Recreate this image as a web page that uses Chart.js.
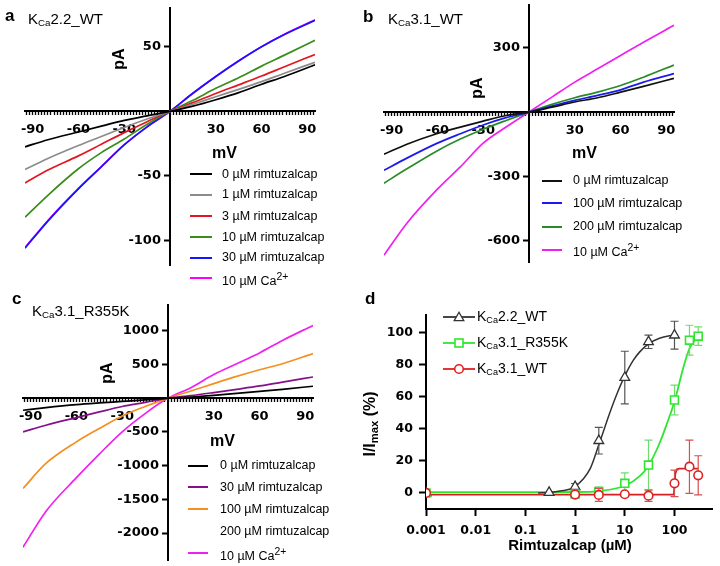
<!DOCTYPE html>
<html>
<head>
<meta charset="utf-8">
<script src="https://cdn.jsdelivr.net/npm/chart.js@4.4.1/dist/chart.umd.min.js"></script>
<style>
  body { margin: 0; background: #fff; }
  #fig { position: relative; width: 720px; height: 566px; overflow: hidden; font-family: "Liberation Sans", Arial, sans-serif; color: #000; }
  canvas { position: absolute; left: 0; top: 0; }
  .t { position: absolute; white-space: nowrap; line-height: 1; }
  .letter { font-weight: bold; font-size: 17px; }
  .name { font-size: 15px; }
  .name sub, .leg sub { font-size: 65%; vertical-align: -0.25em; }
  .ax { font-weight: bold; font-size: 16px; }
  .rot { transform: translate(-50%, -50%) rotate(-90deg); }
  .leg { position: absolute; white-space: nowrap; line-height: 1; }
  .swatch { position: absolute; }
</style>
</head>
<body>
<div id="fig">
  <canvas id="chartA" width="720" height="566"></canvas>
  <canvas id="chartB" width="720" height="566"></canvas>
  <canvas id="chartC" width="720" height="566"></canvas>
  <canvas id="chartD" width="720" height="566"></canvas>

  <div class="t letter" style="left:5px;top:7px">a</div>
  <div class="t name" style="left:28px;top:11px">K<sub>Ca</sub>2.2_WT</div>
  <div class="t letter" style="left:363px;top:8px">b</div>
  <div class="t name" style="left:388px;top:11px">K<sub>Ca</sub>3.1_WT</div>
  <div class="t letter" style="left:12px;top:290px">c</div>
  <div class="t name" style="left:32px;top:303px">K<sub>Ca</sub>3.1_R355K</div>
  <div class="t letter" style="left:365px;top:290px">d</div>

  <div class="t ax" style="left:212px;top:145px">mV</div>
  <div class="t ax" style="left:572px;top:145px">mV</div>
  <div class="t ax" style="left:210px;top:433px">mV</div>
  <div class="t ax rot" style="left:119px;top:59px">pA</div>
  <div class="t ax rot" style="left:477px;top:88px">pA</div>
  <div class="t ax rot" style="left:107px;top:373px">pA</div>
  <div class="t ax rot" style="left:371px;top:424px">I/I<sub style="font-size:70%;vertical-align:-0.25em">max</sub> (%)</div>
  <div class="t ax" style="left:570px;top:537px;transform:translateX(-50%);font-size:15px">Rimtuzalcap (µM)</div>
</div>

<script>
// membrane voltage (mV) at which the traces were read
const mV = [-95, -80, -60, -45, -30, -15, 0, 15, 30, 45, 60, 75, 95];

// a: KCa2.2_WT current (pA)
const a_0uM  = [-27.5, -22, -16, -11.5, -7, -3.5, 0, 4, 9, 14.5, 21, 27, 36];
const a_1uM  = [-45, -36.5, -26.5, -19.5, -12.5, -6, 0, 5.5, 11.3, 17, 23, 29.5, 38];
const a_3uM  = [-55.5, -45.5, -34.5, -25.5, -16.5, -8, 0, 6.7, 13.8, 20.5, 27.3, 34.5, 44];
const a_10uM = [-82, -65, -44.5, -32, -21.5, -10, 0, 8.5, 17.8, 26, 35, 43.5, 55];
const a_30uM = [-106, -85, -60, -43, -26, -12, 0, 14, 27, 39, 50, 59.5, 70.5];
const a_Ca   = [-105.5, -84.5, -59.7, -42.8, -25.8, -12, 0, 14, 27, 39.1, 50.1, 59.7, 70.8];

// b: KCa3.1_WT current (pA)
const b_0uM   = [-197, -150, -100, -70, -42, -16, 0, 23, 47, 67, 93, 120, 158];
const b_100uM = [-272, -215, -145, -101, -60, -26, 0, 28, 55, 78, 104, 140, 180];
const b_200uM = [-332, -265, -180, -126, -80, -39, 0, 36, 67, 93, 124, 163, 220];
const b_Ca    = [-668, -519, -360, -256, -145, -70, 0, 70, 140, 202, 264, 326, 405];

// c: KCa3.1_R355K current (pA)
const c_0uM   = [-180, -141, -97, -72, -50, -27, 0, 16, 41, 71, 100, 130, 176];
const c_30uM  = [-501, -402, -289, -205, -125, -64, 0, 37, 82, 130, 180, 238, 313];
const c_100uM = [-1340, -969, -649, -451, -265, -125, 0, 105, 215, 322, 420, 510, 660];
const c_Ca    = [-2210, -1680, -1180, -830, -500, -230, 0, 155, 350, 510, 670, 855, 1077];

// tick labels
const mVTicks = [-90, -60, -30, 30, 60, 90];
const pATicksA = [-100, -50, 50];
const pATicksB = [-600, -300, 300];
const pATicksC = [-2000, -1500, -1000, -500, 500, 1000];

// d: concentration-response (% of max)
const concKCa22 = [0.001, 0.3, 1, 3, 10, 30, 100];
const respKCa22 = [0, 0.3, 3.9, 32.6, 72, 94.3, 98.4];
const errKCa22  = [0, 0, 2, 8.3, 16.4, 4.2, 8.7];
const concR355K = [0.001, 1, 3, 10, 30, 100, 200, 300];
const respR355K = [0, -0.6, 0.8, 6, 17.4, 58, 95.3, 97.8];
const errR355K  = [0, 1, 3, 6.5, 15.5, 9.3, 9.3, 5.8];
const concWT    = [0.001, 1, 3, 10, 30, 100, 200, 300];
const respWT    = [0, -1, -1.2, -0.8, -1.7, 6, 16.4, 11];
const errWT     = [0, 1, 4, 1, 3.5, 8.3, 16.6, 12.2];

// fitted curves
const fitKCa22X = [0.18, 0.3, 0.5, 1, 2, 3, 5, 7, 10, 15, 20, 30, 50, 100];
const fitKCa22Y = [0, 0.3, 1.2, 4, 15, 30, 50, 62, 73, 83, 88, 93, 96.5, 98.6];
const fitR355KX = [0.001, 0.1, 1, 3, 10, 20, 30, 50, 70, 100, 150, 200, 300];
const fitR355KY = [0.5, 0.5, 0.6, 1.2, 4.5, 10.5, 17, 31, 43, 57, 78, 90, 98];
const fitWTX    = [0.001, 1, 10, 90, 97, 100, 104, 112, 125, 300];
const fitWTY    = [-1, -1, -1, -1, -1, 5, 12, 14.8, 15.2, 15.2];

const doseTicks = [0.001, 0.01, 0.1, 1, 10, 100];
const doseLabels = ['0.001', '0.01', '0.1', '1', '10', '100'];
const respTicks = [0, 20, 40, 60, 80, 100];

const tickFont = {family: 'DejaVu Sans', weight: 'bold', size: 13};
const noPad = s => { s.paddingLeft = s.paddingRight = s.paddingTop = s.paddingBottom = 0; };

const minorMV = [];
for (let v = -94; v <= 94; v += 2) minorMV.push(v);

function ivChart(id, box, yMin, yMax, yTicks, series) {
    return new Chart(id, {
        type: 'line',
        data: {
            datasets: series.map(s => ({
                label: s.label,
                data: mV.map((v, i) => ({x: v, y: s.data[i]})),
                borderColor: s.color,
                borderWidth: 1.7,
                pointRadius: 0,
                cubicInterpolationMode: 'monotone',
                order: s.order || 0
            }))
        },
        options: {
            responsive: false,
            animation: false,
            layout: {padding: {left: box[0], top: box[1], right: 720 - box[2], bottom: 566 - box[3]}},
            plugins: {legend: {display: false}, tooltip: {enabled: false}},
            scales: {
                x: {
                    type: 'linear', min: -95, max: 95, position: {y: 0},
                    afterBuildTicks: s => { s.ticks = minorMV.map(v => ({value: v})); },
                    afterFit: noPad,
                    grid: {drawOnChartArea: false, tickLength: 3, tickWidth: 1.3, tickColor: '#000'},
                    border: {color: '#000', width: 2},
                    ticks: {autoSkip: false, maxRotation: 0, padding: 8, color: '#000', font: tickFont,
                            callback: v => mVTicks.includes(v) ? String(v) : ''}
                },
                y: {
                    type: 'linear', min: yMin, max: yMax, position: {x: 0},
                    afterBuildTicks: s => { s.ticks = yTicks.map(v => ({value: v})); },
                    afterFit: noPad,
                    grid: {drawOnChartArea: false, tickLength: 5, tickWidth: 2, tickColor: '#000'},
                    border: {color: '#000', width: 2},
                    ticks: {color: '#000', font: tickFont, callback: v => v + '  '}
                }
            }
        }
    });
}

const seriesA = [
    {label: '0 µM rimtuzalcap', data: a_0uM, color: '#000000'},
    {label: '1 µM rimtuzalcap', data: a_1uM, color: '#8c8c8c'},
    {label: '3 µM rimtuzalcap', data: a_3uM, color: '#e3151f'},
    {label: '10 µM rimtuzalcap', data: a_10uM, color: '#3a8c1c'},
    {label: '30 µM rimtuzalcap', data: a_30uM, color: '#1414ff'},
    {label: '10 µM Ca<sup>2+</sup>', data: a_Ca, color: '#ff00ff', order: 1}
];
const seriesB = [
    {label: '0 µM rimtuzalcap', data: b_0uM, color: '#111111'},
    {label: '100 µM rimtuzalcap', data: b_100uM, color: '#1a1aee'},
    {label: '200 µM rimtuzalcap', data: b_200uM, color: '#2a8a2a'},
    {label: '10 µM Ca<sup>2+</sup>', data: b_Ca, color: '#f020f0', order: 1}
];
const seriesC = [
    {label: '0 µM rimtuzalcap', data: c_0uM, color: '#000000'},
    {label: '30 µM rimtuzalcap', data: c_30uM, color: '#85108a'},
    {label: '100 µM rimtuzalcap', data: c_100uM, color: '#f39020'},
    {label: '10 µM Ca<sup>2+</sup>', data: c_Ca, color: '#ee22ee', order: 1}
];

ivChart('chartA', [25, 8, 315, 265], -119, 80, pATicksA, seriesA);
ivChart('chartB', [384, 5, 674, 262], -700, 500, pATicksB, seriesB);
ivChart('chartC', [23, 305, 313, 560], -2400, 1380, pATicksC, seriesC);

// error bars for the concentration-response points
const errorBars = {
    id: 'errorBars',
    beforeDatasetDraw(chart, args) {
        const ds = chart.data.datasets[args.index];
        if (!ds.errors) return;
        const {ctx, scales: {x, y}} = chart;
        ctx.save();
        ctx.strokeStyle = ds.errorColor;
        ctx.lineWidth = 1.2;
        ds.data.forEach((p, i) => {
            const e = ds.errors[i];
            if (!e) return;
            const px = x.getPixelForValue(p.x);
            const top = y.getPixelForValue(p.y + e);
            const bot = y.getPixelForValue(p.y - e);
            ctx.beginPath();
            ctx.moveTo(px, top); ctx.lineTo(px, bot);
            ctx.moveTo(px - 4, top); ctx.lineTo(px + 4, top);
            ctx.moveTo(px - 4, bot); ctx.lineTo(px + 4, bot);
            ctx.stroke();
        });
        ctx.restore();
    }
};

const pts = (xs, ys) => xs.map((v, i) => ({x: v, y: ys[i]}));

new Chart('chartD', {
    type: 'scatter',
    data: {
        datasets: [
            {type: 'line', data: pts(fitKCa22X, fitKCa22Y), borderColor: '#333333', borderWidth: 1.5,
             pointRadius: 0, cubicInterpolationMode: 'monotone', order: 1},
            {type: 'line', data: pts(fitR355KX, fitR355KY), borderColor: '#2ee62e', borderWidth: 1.8,
             pointRadius: 0, cubicInterpolationMode: 'monotone', order: 1},
            {type: 'line', data: pts(fitWTX, fitWTY), borderColor: '#d42020', borderWidth: 1.8,
             pointRadius: 0, tension: 0, order: 1},
            {label: 'KCa3.1_WT', data: pts(concWT, respWT), errors: errWT, errorColor: '#d65050',
             pointStyle: 'circle', pointRadius: 4.3, borderColor: '#e02020', backgroundColor: '#fff', borderWidth: 1.6},
            {label: 'KCa3.1_R355K', data: pts(concR355K, respR355K), errors: errR355K, errorColor: '#70dc70',
             pointStyle: 'rect', pointRadius: 5.6, borderColor: '#2ee62e', backgroundColor: '#fff', borderWidth: 1.6},
            {label: 'KCa2.2_WT', data: pts(concKCa22, respKCa22), errors: errKCa22, errorColor: '#555555',
             pointStyle: 'triangle', pointRadius: 5.6, borderColor: '#333333', backgroundColor: '#fff', borderWidth: 1.3}
        ]
    },
    options: {
        responsive: false,
        animation: false,
        layout: {padding: {left: 426, top: 315, right: 720 - 718, bottom: 566 - 509}},
        plugins: {legend: {display: false}, tooltip: {enabled: false}},
        scales: {
            x: {
                type: 'logarithmic', min: 0.001, max: 590, position: {y: -10},
                afterBuildTicks: s => { s.ticks = doseTicks.map(v => ({value: v})); },
                afterFit: noPad,
                grid: {drawOnChartArea: false, tickLength: 6, tickWidth: 2, tickColor: '#000'},
                border: {color: '#000', width: 2},
                ticks: {autoSkip: false, maxRotation: 0, padding: 8, color: '#000',
                        font: {family: 'DejaVu Sans', weight: 'bold', size: 12.5},
                        callback: v => doseLabels[doseTicks.indexOf(v)]}
            },
            y: {
                type: 'linear', min: -10, max: 111, position: {x: 0.001},
                afterBuildTicks: s => { s.ticks = respTicks.map(v => ({value: v})); },
                afterFit: noPad,
                grid: {drawOnChartArea: false, tickLength: 6, tickWidth: 2, tickColor: '#000'},
                border: {color: '#000', width: 2},
                ticks: {color: '#000', font: {family: 'DejaVu Sans', weight: 'bold', size: 12.5},
                        callback: v => v + '   '}
            }
        }
    },
    plugins: [errorBars]
});

// legends
const fig = document.getElementById('fig');
function addDiv(cls, style, html) {
    const d = document.createElement('div');
    d.className = cls;
    d.style.cssText = style;
    if (html) d.innerHTML = html;
    fig.appendChild(d);
}
function ivLegend(rows, ys, x0, x1, tx, lw, size) {
    rows.forEach((r, i) => {
        if (r.color) addDiv('swatch', `left:${x0}px;width:${x1 - x0}px;top:${Math.round(ys[i] - lw / 2)}px;height:${lw}px;background:${r.color}`);
        addDiv('leg', `left:${tx}px;top:${ys[i] - size * 0.5}px;font-size:${size}px`, r.label);
    });
}
ivLegend(seriesA, [174, 194.5, 216, 237, 257.5, 278], 190, 212, 222, 2, 12.5);
ivLegend(seriesB, [180.5, 203, 226.7, 249.5], 542, 562, 573, 1.5, 12.5);
ivLegend([seriesC[0], seriesC[1], seriesC[2], {label: '200 µM rimtuzalcap'}, seriesC[3]],
         [465.7, 487, 509, 531.3, 553], 188, 208, 220, 2, 12.5);

const legendD = [
    {label: 'K<sub>Ca</sub>2.2_WT', color: '#333333', shape: 'tri'},
    {label: 'K<sub>Ca</sub>3.1_R355K', color: '#2ee62e', shape: 'rect'},
    {label: 'K<sub>Ca</sub>3.1_WT', color: '#e02020', shape: 'circ'}
];
[316.5, 343, 369].forEach((y, i) => {
    const r = legendD[i];
    let mark;
    if (r.shape === 'tri') mark = '<polygon points="16,3.2 20.8,11.6 11.2,11.6" fill="#fff" stroke="' + r.color + '" stroke-width="1.3"/>';
    else if (r.shape === 'rect') mark = '<rect x="12" y="4" width="8" height="8" fill="#fff" stroke="' + r.color + '" stroke-width="1.6"/>';
    else mark = '<circle cx="16" cy="8" r="4.3" fill="#fff" stroke="' + r.color + '" stroke-width="1.6"/>';
    addDiv('swatch', `left:443px;top:${y - 8}px;width:32px;height:16px`,
        '<svg width="32" height="16"><line x1="0" y1="8" x2="32" y2="8" stroke="' + r.color + '" stroke-width="1.8"/>' + mark + '</svg>');
    addDiv('leg', `left:477px;top:${y - 8}px;font-size:14px`, r.label);
});
</script>
</body>
</html>
